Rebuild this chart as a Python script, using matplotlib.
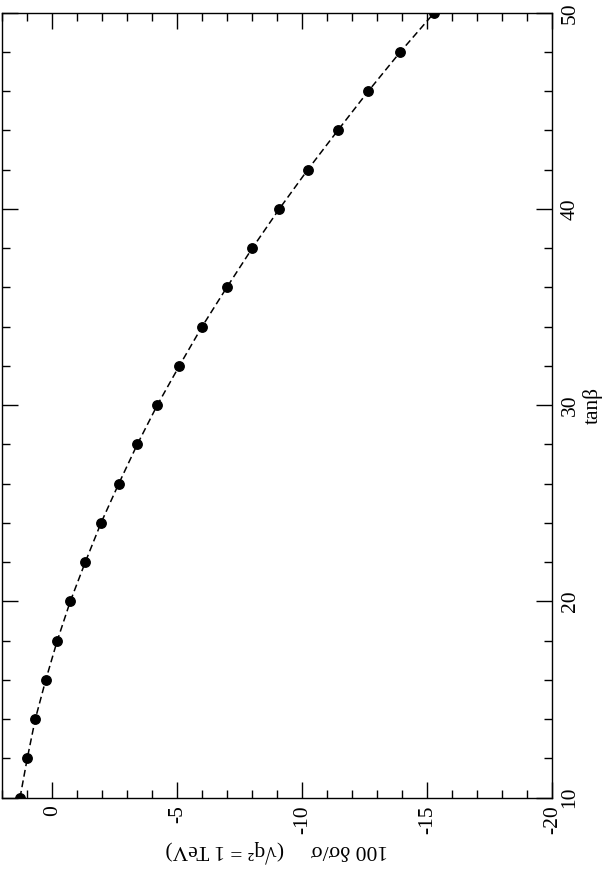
import numpy as np
import matplotlib
matplotlib.use("Agg")
import matplotlib.pyplot as plt
from matplotlib.ticker import MultipleLocator

plt.rcParams['font.family'] = ['Liberation Serif', 'DejaVu Serif']
plt.rcParams['axes.unicode_minus'] = False

# data: tan(beta) vs 100 dsigma/sigma (sqrt(q^2) = 1 TeV)
tanb = [10, 12, 14, 16, 18, 20, 22, 24, 26, 28, 30,
        32, 34, 36, 38, 40, 42, 44, 46, 48, 50]
dsig = [1.29, 1.00, 0.68, 0.26, -0.20, -0.72, -1.32, -1.95, -2.66, -3.40, -4.20,
        -5.08, -5.99, -6.98, -8.00, -9.08, -10.22, -11.42, -12.64, -13.92, -15.28]

xticks = [0, -5, -10, -15, -20]
yticks = [10, 20, 30, 40, 50]

# the figure is drawn rotated by 90 deg (tanb runs upward, dsig runs to the left)
fig = plt.figure(figsize=(6.07, 8.72), dpi=100)
ax = fig.add_axes([2/607, 1-797.7/872, 550.3/607, 785/872])

ax.plot(dsig, tanb, color='black', lw=1.1, ls=(0, (4.5, 2.5)),
        marker='o', ms=6.8, mfc='black', mec='black')

ax.set_xlim(2.01, -20)
ax.set_ylim(10, 50)
ax.set_xticks(xticks)
ax.set_yticks(yticks)
ax.xaxis.set_minor_locator(MultipleLocator(1))
ax.yaxis.set_minor_locator(MultipleLocator(2))

ax.tick_params(which='both', direction='in', top=True, bottom=True, left=True, right=True,
               labelleft=False, labelright=True, width=1.0, color='black')
ax.tick_params(which='major', length=11.3)
ax.tick_params(which='minor', length=5.8)
ax.tick_params(axis='x', labelsize=15.5, pad=5.5, labelrotation=90)
ax.tick_params(axis='y', labelsize=15.5, pad=6, labelrotation=90)
for lab in ax.get_yticklabels():
    lab.set_va('center')

for s in ax.spines.values():
    s.set_linewidth(1.0)

ax.set_xlabel('100 δσ/σ     (√q² = 1 TeV)', fontsize=15.5, rotation=180, labelpad=4)
ax.yaxis.set_label_position('right')
ax.set_ylabel('tanβ', fontsize=15.5, rotation=90, labelpad=2)

plt.savefig('out.png', dpi=100)
